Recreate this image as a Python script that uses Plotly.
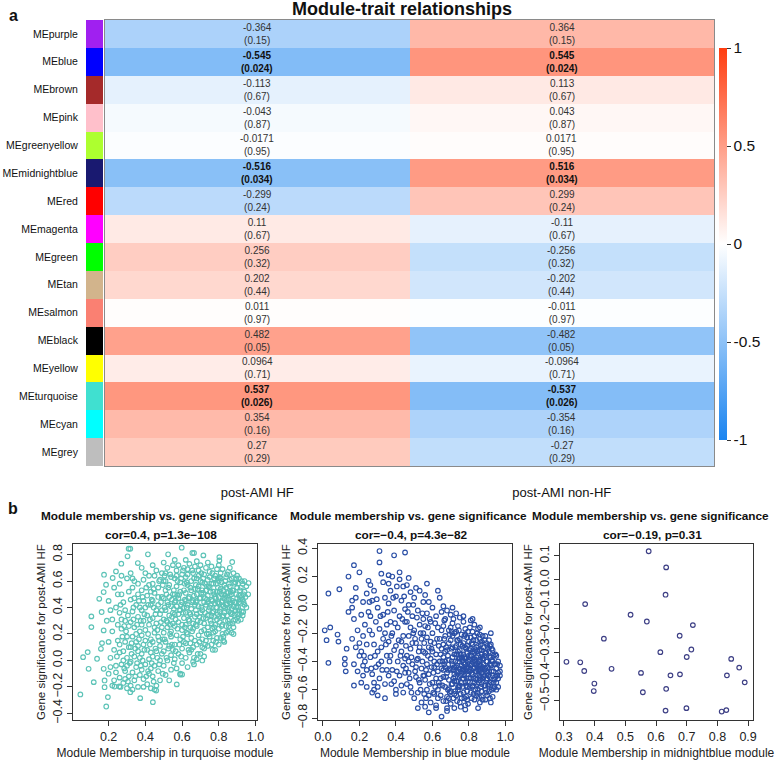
import plotly.graph_objects as go

# ---------------- data: module-trait heatmap ----------------
modules = ["MEpurple", "MEblue", "MEbrown", "MEpink", "MEgreenyellow", "MEmidnightblue",
           "MEred", "MEmagenta", "MEgreen", "MEtan", "MEsalmon", "MEblack", "MEyellow",
           "MEturquoise", "MEcyan", "MEgrey"]
module_colors = ["#A020F0", "#0000FF", "#A52A2A", "#FFC0CB", "#ADFF2F", "#191970",
                 "#FF0000", "#FF00FF", "#00FF00", "#D2B48C", "#FA8072", "#000000",
                 "#FFFF00", "#40E0D0", "#00FFFF", "#BEBEBE"]
traits = ["post-AMI HF", "post-AMI non-HF"]
cor_hf = [-0.364, -0.545, -0.113, -0.043, -0.0171, -0.516, -0.299, 0.11, 0.256, 0.202,
          0.011, 0.482, 0.0964, 0.537, 0.354, 0.27]
cor_nonhf = [0.364, 0.545, 0.113, 0.043, 0.0171, 0.516, 0.299, -0.11, -0.256, -0.202,
             -0.011, -0.482, -0.0964, -0.537, -0.354, -0.27]
pval = [0.15, 0.024, 0.67, 0.87, 0.95, 0.034, 0.24, 0.67, 0.32, 0.44, 0.97, 0.05, 0.71,
        0.026, 0.16, 0.29]
colorbar_ticks = [-1, -0.5, 0, 0.5, 1]

# ---------------- data: scatter panels ----------------
turquoise_points = [
    (0.046,-0.257),(0.187,-0.348),(0.196,-0.277),(0.061,0.025),(0.091,-0.063),(0.086,0.063),
    (0.119,-0.164),(0.106,0.252),(0.106,0.333),(0.137,0.013),(0.158,0.088),(0.164,0.131),
    (0.173,0.227),(0.162,0.366),(0.149,0.466),(0.175,0.648),(0.186,0.572),(0.173,0.517),
    (0.222,0.623),(0.240,0.673),(0.269,0.731),(0.303,0.787),(0.309,0.844),(0.318,0.844),
    (0.359,0.736),(0.414,0.802),(0.524,0.802),(0.598,0.852),(0.656,0.812),(0.665,0.812),
    (0.716,0.794),(0.803,0.781),(0.803,0.756),(0.873,0.744),(0.962,0.585),(0.933,0.366),
    (0.173,-0.063),(0.178,-0.151),(0.178,-0.202),(0.232,-0.197),(0.258,-0.197),(0.265,-0.2),
    (0.318,-0.24),(0.372,-0.285),(0.441,-0.315),(0.459,-0.227),(0.571,-0.181),(0.59,-0.106),
    (0.6,-0.106),(0.665,-0.03),(0.71,0.0),(0.767,0.081),(0.824,0.151),(0.88,0.2),
    (0.20,0.45),(0.21,0.38),(0.19,0.30),(0.22,0.22),(0.20,0.14),(0.23,0.08),(0.21,0.02),
    (0.24,-0.04),(0.20,-0.10),(0.23,-0.15),(0.22,0.31),(0.24,0.40),(0.25,0.15),(0.24,-0.09),
    (0.25,0.50),(0.23,0.55),(0.21,-0.05),(0.25,0.27),(0.22,-0.19),(0.245,0.03),
    (0.26,0.58),(0.27,0.50),(0.28,0.44),(0.26,0.36),(0.29,0.30),(0.27,0.24),(0.30,0.18),
    (0.26,0.12),(0.28,0.07),(0.30,0.02),(0.27,-0.03),(0.29,-0.08),(0.26,-0.13),(0.31,-0.12),
    (0.28,-0.17),(0.30,-0.21),(0.31,0.10),(0.29,0.38),(0.31,0.52),(0.27,0.64),(0.30,0.62),
    (0.28,0.00),(0.26,0.06),(0.30,-0.04),(0.29,0.14),(0.31,0.26),(0.27,0.31),(0.29,-0.14),
    (0.32,0.66),(0.34,0.60),(0.33,0.55),(0.36,0.50),(0.32,0.46),(0.35,0.42),(0.33,0.37),
    (0.36,0.33),(0.32,0.29),(0.34,0.25),(0.37,0.22),(0.33,0.18),(0.35,0.14),(0.32,0.10),
    (0.36,0.07),(0.34,0.03),(0.32,-0.01),(0.35,-0.05),(0.33,-0.09),(0.37,-0.11),(0.34,-0.15),
    (0.32,-0.19),(0.36,-0.20),(0.35,0.20),(0.37,0.40),(0.33,0.62),(0.36,0.58),(0.37,0.02),
    (0.33,-0.22),(0.36,0.11),(0.34,0.47),
    (0.38,0.70),(0.40,0.66),(0.39,0.61),(0.42,0.57),(0.38,0.53),(0.41,0.49),(0.39,0.45),
    (0.43,0.42),(0.38,0.38),(0.41,0.34),(0.39,0.30),(0.42,0.27),(0.40,0.23),(0.38,0.19),
    (0.43,0.16),(0.39,0.12),(0.41,0.08),(0.38,0.05),(0.42,0.01),(0.40,-0.03),(0.38,-0.07),
    (0.42,-0.10),(0.39,-0.14),(0.41,-0.18),(0.43,-0.21),(0.40,0.15),(0.43,0.06),(0.38,0.27),
    (0.42,0.64),(0.40,0.40),(0.43,0.52),(0.39,-0.20),(0.43,-0.06),
    (0.44,0.72),(0.46,0.68),(0.45,0.64),(0.48,0.61),(0.44,0.58),(0.47,0.55),(0.45,0.51),
    (0.49,0.48),(0.44,0.45),(0.47,0.42),(0.46,0.38),(0.48,0.35),(0.44,0.32),(0.46,0.28),
    (0.49,0.25),(0.45,0.21),(0.47,0.18),(0.44,0.14),(0.48,0.11),(0.46,0.07),(0.44,0.03),
    (0.48,0.00),(0.45,-0.04),(0.47,-0.08),(0.44,-0.12),(0.48,-0.15),(0.46,-0.19),(0.49,0.66),
    (0.49,0.38),(0.45,0.25),(0.49,0.05),(0.47,0.48),(0.45,-0.22),
    (0.50,0.74),(0.52,0.70),(0.51,0.66),(0.54,0.63),(0.50,0.60),(0.53,0.57),(0.51,0.53),
    (0.55,0.50),(0.50,0.47),(0.52,0.44),(0.54,0.41),(0.51,0.38),(0.53,0.34),(0.50,0.31),
    (0.55,0.28),(0.52,0.25),(0.50,0.21),(0.54,0.18),(0.51,0.14),(0.53,0.11),(0.50,0.07),
    (0.54,0.04),(0.52,0.00),(0.50,-0.04),(0.54,-0.07),(0.51,-0.11),(0.53,-0.15),(0.55,0.72),
    (0.55,0.36),(0.52,0.29),(0.55,0.08),(0.53,0.48),(0.51,0.60),(0.54,0.22),
    (0.56,0.76),(0.58,0.72),(0.57,0.68),(0.60,0.65),(0.56,0.62),(0.59,0.59),(0.57,0.56),
    (0.61,0.53),(0.56,0.50),(0.58,0.47),(0.60,0.44),(0.57,0.41),(0.59,0.38),(0.56,0.35),
    (0.61,0.32),(0.58,0.29),(0.56,0.26),(0.60,0.23),(0.57,0.19),(0.59,0.16),(0.56,0.12),
    (0.60,0.09),(0.58,0.05),(0.56,0.01),(0.60,-0.02),(0.57,-0.06),(0.59,-0.10),(0.61,0.70),
    (0.61,0.40),(0.58,0.35),(0.61,0.14),(0.59,0.52),(0.57,0.64),(0.60,0.27),(0.56,0.44),
    (0.62,0.76),(0.64,0.73),(0.63,0.69),(0.66,0.66),(0.62,0.63),(0.65,0.60),(0.63,0.57),
    (0.67,0.54),(0.62,0.51),(0.64,0.48),(0.66,0.45),(0.63,0.42),(0.65,0.39),(0.62,0.36),
    (0.67,0.33),(0.64,0.30),(0.62,0.27),(0.66,0.24),(0.63,0.20),(0.65,0.17),(0.62,0.13),
    (0.66,0.10),(0.64,0.06),(0.62,0.02),(0.66,-0.01),(0.63,-0.05),(0.67,0.71),(0.67,0.42),
    (0.64,0.36),(0.67,0.15),(0.65,0.53),(0.63,0.65),(0.66,0.28),(0.62,0.45),(0.65,0.08),
    (0.68,0.75),(0.70,0.72),(0.69,0.68),(0.72,0.65),(0.68,0.62),(0.71,0.59),(0.69,0.56),
    (0.73,0.53),(0.68,0.50),(0.70,0.47),(0.72,0.44),(0.69,0.41),(0.71,0.38),(0.68,0.35),
    (0.73,0.32),(0.70,0.29),(0.68,0.26),(0.72,0.23),(0.69,0.19),(0.71,0.16),(0.68,0.12),
    (0.72,0.09),(0.70,0.05),(0.68,0.01),(0.72,0.03),(0.73,0.70),(0.73,0.42),(0.70,0.36),
    (0.73,0.15),(0.71,0.53),(0.69,0.64),(0.72,0.28),(0.68,0.45),(0.71,0.10),(0.70,0.60),
    (0.74,0.74),(0.76,0.71),(0.75,0.67),(0.78,0.64),(0.74,0.61),(0.77,0.58),(0.75,0.55),
    (0.79,0.52),(0.74,0.49),(0.76,0.46),(0.78,0.43),(0.75,0.40),(0.77,0.37),(0.74,0.34),
    (0.79,0.31),(0.76,0.28),(0.74,0.25),(0.78,0.22),(0.75,0.18),(0.77,0.15),(0.74,0.11),
    (0.78,0.08),(0.76,0.12),(0.79,0.69),(0.79,0.40),(0.76,0.34),(0.79,0.17),(0.77,0.52),
    (0.75,0.63),(0.78,0.27),(0.74,0.44),(0.77,0.21),(0.76,0.58),(0.78,0.48),
    (0.80,0.72),(0.82,0.69),(0.81,0.66),(0.84,0.63),(0.80,0.60),(0.83,0.57),(0.81,0.54),
    (0.85,0.51),(0.80,0.48),(0.82,0.45),(0.84,0.42),(0.81,0.39),(0.83,0.36),(0.80,0.33),
    (0.85,0.30),(0.82,0.27),(0.80,0.24),(0.84,0.21),(0.81,0.17),(0.83,0.14),(0.80,0.12),
    (0.85,0.67),(0.85,0.39),(0.82,0.33),(0.85,0.22),(0.83,0.50),(0.81,0.62),(0.84,0.26),
    (0.80,0.43),(0.82,0.20),(0.84,0.55),(0.83,0.47),
    (0.86,0.70),(0.88,0.66),(0.87,0.62),(0.89,0.59),(0.86,0.56),(0.88,0.53),(0.87,0.50),
    (0.90,0.47),(0.86,0.44),(0.88,0.41),(0.89,0.38),(0.87,0.35),(0.89,0.31),(0.86,0.28),
    (0.88,0.25),(0.87,0.21),(0.90,0.64),(0.90,0.35),(0.88,0.30),(0.90,0.55),(0.86,0.61),
    (0.89,0.44),(0.87,0.39),(0.86,0.49),
    (0.91,0.62),(0.93,0.58),(0.92,0.55),(0.94,0.52),(0.91,0.49),(0.93,0.46),(0.92,0.43),
    (0.95,0.40),(0.91,0.38),(0.93,0.34),(0.92,0.31),(0.95,0.56),(0.94,0.60),(0.91,0.44),
    (0.96,0.50),(0.94,0.42),
]
turquoise_core_points = [
    (0.265,0.42),(0.275,0.18),(0.285,-0.06),(0.295,0.22),(0.305,0.34),(0.315,-0.02),
    (0.325,0.13),(0.335,0.40),(0.345,-0.12),(0.355,0.27),(0.365,0.45),(0.305,-0.16),
    (0.325,0.05),(0.345,0.09),(0.355,-0.02),(0.365,0.16),(0.285,0.26),(0.335,0.31),
    (0.375,-0.04),(0.375,0.30),
    (0.385,0.00),(0.395,0.35),(0.405,0.55),(0.415,-0.08),(0.425,0.12),(0.435,0.46),
    (0.445,-0.16),(0.455,0.35),(0.465,0.02),(0.475,0.60),(0.485,0.29),(0.495,-0.10),
    (0.395,0.08),(0.405,-0.12),(0.415,0.42),(0.425,0.31),(0.435,-0.02),(0.445,0.54),
    (0.455,0.09),(0.465,0.23),(0.475,-0.03),(0.485,0.44),(0.495,0.16),(0.385,0.48),
    (0.415,0.20),(0.445,0.40),(0.475,0.15),(0.495,0.57),
    (0.505,0.40),(0.515,0.02),(0.525,0.55),(0.535,0.20),(0.545,0.46),(0.555,-0.02),
    (0.565,0.31),(0.575,0.60),(0.585,0.12),(0.595,0.42),(0.605,0.68),(0.615,0.25),
    (0.505,0.16),(0.515,0.30),(0.525,0.09),(0.535,0.65),(0.545,0.33),(0.555,0.53),
    (0.565,0.07),(0.575,0.24),(0.585,0.50),(0.595,0.03),(0.605,0.36),(0.615,0.58),
    (0.505,0.64),(0.525,0.42),(0.545,0.12),(0.565,0.45),(0.585,0.38),(0.605,0.18),
    (0.515,0.50),(0.535,0.27),(0.555,0.39),(0.575,0.49),(0.595,0.62),(0.615,0.46),
    (0.625,0.40),(0.635,0.08),(0.645,0.55),(0.655,0.22),(0.665,0.62),(0.675,0.38),
    (0.685,0.05),(0.695,0.47),(0.705,0.66),(0.715,0.32),(0.725,0.58),(0.735,0.20),
    (0.625,0.59),(0.635,0.31),(0.645,0.13),(0.655,0.44),(0.665,0.02),(0.675,0.27),
    (0.685,0.54),(0.695,0.14),(0.705,0.40),(0.715,0.51),(0.725,0.36),(0.735,0.46),
    (0.625,0.21),(0.645,0.35),(0.665,0.49),(0.685,0.30),(0.705,0.22),(0.725,0.12),
    (0.635,0.47),(0.655,0.68),(0.675,0.57),(0.695,0.33),(0.715,0.62),(0.735,0.56),
    (0.645,0.25),(0.675,0.44),(0.705,0.51),(0.725,0.47),
    (0.745,0.38),(0.755,0.52),(0.765,0.24),(0.775,0.62),(0.785,0.40),(0.795,0.55),
    (0.805,0.29),(0.815,0.50),(0.825,0.41),(0.835,0.60),(0.845,0.34),(0.855,0.46),
    (0.745,0.56),(0.755,0.30),(0.765,0.45),(0.775,0.33),(0.785,0.58),(0.795,0.44),
    (0.805,0.37),(0.815,0.26),(0.825,0.53),(0.835,0.40),(0.845,0.48),(0.855,0.58),
    (0.745,0.20),(0.765,0.66),(0.785,0.14),(0.805,0.63),(0.825,0.18),(0.845,0.65),
    (0.755,0.42),(0.775,0.50),(0.795,0.35),(0.815,0.44),(0.835,0.30),(0.855,0.37),
    (0.765,0.36),(0.785,0.47),(0.805,0.52),(0.825,0.34),(0.845,0.43),(0.775,0.25),
    (0.795,0.62),(0.815,0.59),(0.835,0.49),(0.855,0.26),
    (0.865,0.36),(0.875,0.53),(0.885,0.44),(0.895,0.62),(0.905,0.40),(0.915,0.53),
    (0.925,0.37),(0.935,0.50),(0.865,0.52),(0.875,0.45),(0.885,0.34),(0.895,0.50),
    (0.905,0.58),(0.915,0.46),(0.925,0.60),(0.935,0.44),(0.875,0.28),(0.895,0.40),
    (0.915,0.35),(0.885,0.58),(0.905,0.30),(0.925,0.48),(0.945,0.48),(0.865,0.43),
]

blue_points = [
    (0.01,-0.18),(0.02,-0.25),(0.03,0.08),(0.03,-0.41),(0.04,-0.16),(0.08,-0.21),(0.09,0.11),
    (0.085,-0.26),(0.14,0.20),(0.17,0.28),(0.20,0.23),(0.31,0.38),(0.31,0.30),(0.39,0.35),
    (0.45,0.37),(0.14,-0.05),(0.13,-0.31),(0.12,-0.38),(0.12,-0.42),(0.125,-0.47),(0.16,0.03),
    (0.18,0.12),(0.17,-0.57),(0.22,-0.43),(0.21,-0.55),(0.24,-0.58),(0.27,-0.62),(0.28,-0.6),
    (0.34,-0.66),(0.30,-0.64),(0.40,-0.63),(0.52,-0.73),(0.56,-0.72),(0.58,-0.76),(0.62,-0.73),
    (0.65,-0.79),(0.68,-0.75),(0.72,-0.73),(0.78,-0.74),(0.85,-0.73),(0.92,-0.69),(0.96,-0.48),
    (0.97,-0.5),(0.95,-0.6),(0.92,-0.2),(0.86,-0.16),(0.82,-0.10),(0.77,-0.08),(0.71,-0.02),
    (0.63,0.10),(0.57,0.15),(0.51,0.12),(0.47,0.19),(0.42,0.23),(0.36,0.21),(0.25,0.17),
    (0.16,-0.02),(0.18,0.05),(0.17,-0.10),(0.19,-0.18),(0.16,-0.24),(0.18,-0.30),(0.20,-0.36),
    (0.17,-0.42),(0.19,-0.47),(0.22,-0.50),(0.21,-0.07),(0.23,-0.14),(0.22,-0.22),(0.24,-0.28),
    (0.21,-0.33),(0.23,-0.40),(0.24,-0.46),(0.22,0.02),(0.25,-0.05),(0.20,-0.27),(0.24,0.08),
    (0.26,0.14),(0.28,0.10),(0.27,0.03),(0.30,-0.02),(0.26,-0.08),(0.29,-0.12),(0.31,-0.17),
    (0.27,-0.21),(0.33,-0.24),(0.28,-0.28),(0.30,-0.33),(0.26,-0.37),(0.32,-0.40),(0.29,-0.44),
    (0.27,-0.49),(0.31,-0.52),(0.34,-0.56),(0.30,-0.58),(0.33,0.16),(0.34,0.05),(0.33,-0.07),
    (0.35,-0.14),(0.32,-0.30),(0.35,-0.46),(0.28,-0.55),(0.32,0.22),(0.35,-0.36),(0.34,-0.20),
    (0.36,0.15),(0.38,0.20),(0.37,0.10),(0.40,0.06),(0.36,0.01),(0.39,-0.04),(0.42,-0.08),
    (0.37,-0.12),(0.41,-0.16),(0.38,-0.20),(0.44,-0.22),(0.36,-0.26),(0.40,-0.29),(0.43,-0.33),
    (0.37,-0.36),(0.41,-0.40),(0.44,-0.43),(0.38,-0.46),(0.42,-0.50),(0.39,-0.54),(0.43,-0.57),
    (0.40,-0.60),(0.44,0.13),(0.43,0.03),(0.45,-0.03),(0.45,-0.12),(0.43,-0.26),(0.45,-0.38),
    (0.36,-0.50),(0.42,0.18),(0.45,-0.48),(0.39,-0.32),(0.44,-0.62),
    (0.46,0.14),(0.48,0.09),(0.50,0.05),(0.47,0.00),(0.52,-0.04),(0.49,-0.08),(0.46,-0.12),
    (0.53,-0.14),(0.50,-0.18),(0.47,-0.22),(0.54,-0.24),(0.51,-0.27),(0.48,-0.31),(0.55,-0.33),
    (0.46,-0.36),(0.52,-0.38),(0.49,-0.42),(0.54,-0.45),(0.47,-0.48),(0.51,-0.51),(0.53,-0.55),
    (0.48,-0.58),(0.52,-0.62),(0.50,-0.66),(0.54,-0.69),(0.53,0.10),(0.55,0.02),(0.55,-0.10),
    (0.49,-0.27),(0.55,-0.20),(0.46,-0.56),(0.55,-0.50),(0.51,-0.44),(0.48,-0.16),(0.53,-0.30),
    (0.47,-0.40),
    (0.56,0.07),(0.58,0.02),(0.60,-0.02),(0.57,-0.06),(0.62,-0.08),(0.59,-0.12),(0.56,-0.15),
    (0.63,-0.16),(0.60,-0.20),(0.57,-0.23),(0.64,-0.24),(0.61,-0.27),(0.58,-0.30),(0.65,-0.31),
    (0.56,-0.34),(0.62,-0.35),(0.59,-0.38),(0.64,-0.40),(0.57,-0.42),(0.61,-0.44),(0.63,-0.47),
    (0.58,-0.49),(0.62,-0.52),(0.60,-0.55),(0.64,-0.57),(0.57,-0.60),(0.61,-0.63),(0.63,-0.66),
    (0.59,-0.69),(0.62,-0.71),(0.64,0.05),(0.65,-0.05),(0.65,-0.18),(0.59,-0.26),(0.65,-0.45),
    (0.56,-0.53),(0.60,-0.33),(0.63,-0.60),(0.58,-0.64),(0.61,-0.40),
    (0.66,-0.01),(0.68,-0.04),(0.70,-0.07),(0.67,-0.10),(0.71,-0.13),(0.66,-0.15),(0.69,-0.18),
    (0.72,-0.20),(0.67,-0.22),(0.70,-0.25),(0.66,-0.28),(0.71,-0.30),(0.68,-0.32),(0.72,-0.35),
    (0.66,-0.37),(0.69,-0.39),(0.71,-0.42),(0.67,-0.44),(0.70,-0.46),(0.72,-0.49),(0.66,-0.51),
    (0.69,-0.53),(0.71,-0.56),(0.67,-0.58),(0.70,-0.61),(0.72,-0.63),(0.68,-0.65),(0.66,-0.68),
    (0.70,-0.70),(0.68,-0.73),(0.69,-0.27),(0.68,-0.48),(0.71,-0.37),(0.67,-0.33),(0.72,-0.54),
    (0.69,-0.59),(0.70,-0.16),(0.67,-0.40),(0.71,-0.22),(0.72,-0.44),(0.66,-0.46),(0.69,-0.66),
    (0.73,-0.06),(0.75,-0.09),(0.77,-0.12),(0.74,-0.15),(0.78,-0.17),(0.73,-0.19),(0.76,-0.21),
    (0.79,-0.23),(0.74,-0.25),(0.77,-0.27),(0.73,-0.29),(0.78,-0.30),(0.75,-0.32),(0.79,-0.34),
    (0.73,-0.35),(0.76,-0.37),(0.78,-0.38),(0.74,-0.40),(0.77,-0.41),(0.80,-0.42),(0.73,-0.44),
    (0.75,-0.45),(0.78,-0.46),(0.76,-0.48),(0.79,-0.49),(0.74,-0.51),(0.77,-0.52),(0.73,-0.54),
    (0.78,-0.55),(0.75,-0.57),(0.79,-0.58),(0.74,-0.60),(0.77,-0.62),(0.73,-0.64),(0.76,-0.66),
    (0.79,-0.67),(0.75,-0.69),(0.78,-0.71),(0.80,-0.26),(0.80,-0.36),(0.80,-0.52),(0.76,-0.43),
    (0.74,-0.33),(0.78,-0.21),(0.76,-0.55),(0.79,-0.61),(0.75,-0.24),(0.77,-0.35),(0.73,-0.47),
    (0.78,-0.42),(0.75,-0.38),(0.77,-0.46),(0.79,-0.29),(0.74,-0.58),
    (0.81,-0.11),(0.83,-0.14),(0.85,-0.17),(0.82,-0.19),(0.86,-0.21),(0.81,-0.23),(0.84,-0.25),
    (0.87,-0.26),(0.82,-0.28),(0.85,-0.29),(0.81,-0.31),(0.86,-0.32),(0.83,-0.34),(0.87,-0.35),
    (0.81,-0.36),(0.84,-0.37),(0.86,-0.39),(0.82,-0.40),(0.85,-0.41),(0.88,-0.42),(0.81,-0.43),
    (0.83,-0.44),(0.86,-0.45),(0.84,-0.47),(0.87,-0.48),(0.82,-0.49),(0.85,-0.50),(0.81,-0.52),
    (0.86,-0.53),(0.83,-0.55),(0.87,-0.56),(0.82,-0.58),(0.85,-0.60),(0.81,-0.62),(0.84,-0.64),
    (0.87,-0.65),(0.83,-0.67),(0.86,-0.69),(0.88,-0.30),(0.88,-0.38),(0.88,-0.51),(0.84,-0.42),
    (0.82,-0.33),(0.86,-0.24),(0.84,-0.53),(0.87,-0.61),(0.83,-0.22),(0.85,-0.36),(0.81,-0.46),
    (0.86,-0.43),(0.83,-0.39),(0.85,-0.46),(0.87,-0.32),(0.82,-0.57),(0.84,-0.30),(0.86,-0.50),
    (0.89,-0.22),(0.91,-0.25),(0.90,-0.29),(0.93,-0.32),(0.89,-0.34),(0.92,-0.37),(0.90,-0.40),
    (0.94,-0.42),(0.89,-0.45),(0.91,-0.47),(0.93,-0.50),(0.90,-0.52),(0.92,-0.55),(0.89,-0.57),
    (0.94,-0.58),(0.91,-0.61),(0.90,-0.64),(0.93,-0.65),(0.89,-0.67),(0.95,-0.45),(0.95,-0.36),
    (0.92,-0.43),(0.90,-0.48),(0.94,-0.53),(0.91,-0.33),(0.93,-0.40),(0.89,-0.60),(0.92,-0.28),
    (0.95,-0.55),(0.91,-0.56),
    (0.96,-0.40),(0.97,-0.47),(0.96,-0.52),(0.97,-0.43),(0.96,-0.58),
]
blue_core_points = [
    (0.225,-0.36),(0.255,-0.18),(0.265,-0.45),(0.285,-0.36),(0.295,0.04),(0.315,-0.08),
    (0.325,-0.46),(0.345,-0.28),(0.355,-0.05),(0.365,-0.40),(0.375,-0.22),(0.385,0.05),
    (0.395,-0.13),(0.405,-0.47),(0.415,-0.25),(0.425,-0.36),(0.435,-0.10),(0.445,0.06),
    (0.405,0.13),(0.375,-0.56),(0.255,0.02),(0.305,-0.42),
    (0.455,-0.29),(0.465,-0.05),(0.475,-0.52),(0.485,-0.37),(0.495,-0.20),(0.505,-0.47),
    (0.515,-0.09),(0.525,-0.33),(0.535,-0.60),(0.545,-0.40),(0.555,-0.27),(0.565,-0.46),
    (0.575,-0.16),(0.585,-0.56),(0.595,-0.31),(0.605,-0.48),(0.615,-0.13),(0.625,-0.42),
    (0.635,-0.29),(0.645,-0.52),(0.455,-0.45),(0.485,-0.62),(0.505,-0.24),(0.525,-0.53),
    (0.545,-0.06),(0.565,-0.66),(0.585,-0.10),(0.605,-0.62),(0.625,-0.24),(0.645,-0.35),
    (0.515,-0.39),(0.555,-0.50),(0.595,-0.44),(0.635,-0.55),(0.575,-0.36),(0.615,-0.58),
    (0.535,-0.20),(0.495,0.00),(0.555,-0.63),(0.645,-0.64),
    (0.655,-0.40),(0.665,-0.24),(0.675,-0.51),(0.685,-0.36),(0.695,-0.45),(0.705,-0.31),
    (0.715,-0.52),(0.725,-0.40),(0.735,-0.25),(0.745,-0.47),(0.755,-0.35),(0.765,-0.58),
    (0.775,-0.44),(0.785,-0.31),(0.795,-0.54),(0.655,-0.57),(0.665,-0.11),(0.675,-0.30),
    (0.685,-0.60),(0.695,-0.21),(0.705,-0.56),(0.715,-0.10),(0.725,-0.61),(0.735,-0.43),
    (0.745,-0.18),(0.755,-0.63),(0.765,-0.29),(0.775,-0.50),(0.785,-0.65),(0.795,-0.40),
    (0.665,-0.42),(0.685,-0.46),(0.705,-0.40),(0.725,-0.30),(0.745,-0.38),(0.765,-0.46),
    (0.785,-0.45),(0.675,-0.68),(0.695,-0.62),(0.715,-0.66),(0.735,-0.68),(0.755,-0.72),
    (0.775,-0.66),(0.795,-0.70),(0.735,-0.54),(0.755,-0.50),(0.775,-0.37),(0.795,-0.47),
    (0.715,-0.46),(0.735,-0.35),(0.755,-0.28),(0.775,-0.22),(0.795,-0.19),(0.705,-0.19),
    (0.745,-0.58),(0.765,-0.39),(0.785,-0.57),(0.725,-0.51),(0.765,-0.52),(0.785,-0.38),
    (0.805,-0.39),(0.815,-0.27),(0.825,-0.45),(0.835,-0.32),(0.845,-0.56),(0.855,-0.40),
    (0.865,-0.28),(0.875,-0.44),(0.885,-0.57),(0.895,-0.40),(0.905,-0.31),(0.915,-0.51),
    (0.925,-0.39),(0.935,-0.47),(0.945,-0.35),(0.805,-0.58),(0.815,-0.48),(0.825,-0.63),
    (0.835,-0.40),(0.845,-0.20),(0.855,-0.55),(0.865,-0.46),(0.875,-0.38),(0.885,-0.25),
    (0.895,-0.53),(0.905,-0.44),(0.915,-0.37),(0.925,-0.60),(0.935,-0.55),(0.945,-0.51),
    (0.805,-0.47),(0.815,-0.36),(0.825,-0.52),(0.835,-0.47),(0.845,-0.33),(0.855,-0.47),
    (0.865,-0.58),(0.875,-0.52),(0.885,-0.46),(0.895,-0.34),(0.905,-0.57),(0.915,-0.42),
    (0.925,-0.47),(0.935,-0.36),(0.805,-0.32),(0.825,-0.38),(0.845,-0.44),(0.865,-0.37),
    (0.885,-0.36),(0.905,-0.50),(0.925,-0.31),(0.815,-0.66),(0.835,-0.60),(0.855,-0.65),
    (0.875,-0.67),(0.895,-0.62),(0.915,-0.66),(0.805,-0.16),(0.825,-0.25),(0.855,-0.32),
    (0.875,-0.22),(0.895,-0.27),(0.835,-0.52),(0.865,-0.51),(0.885,-0.50),(0.915,-0.29),
    (0.945,-0.42),(0.815,-0.42),(0.845,-0.62),(0.865,-0.43),(0.895,-0.47),(0.935,-0.59),
    (0.955,-0.50),(0.955,-0.42),
]

midnightblue_mm = [0.576, 0.633, 0.631, 0.369, 0.517, 0.570, 0.720, 0.430, 0.677, 0.715,
                   0.614, 0.700, 0.308, 0.353, 0.366, 0.455, 0.551, 0.647, 0.678, 0.399,
                   0.397, 0.557, 0.633, 0.831, 0.845, 0.871, 0.889, 0.631, 0.699, 0.814, 0.829]
midnightblue_gs = [0.119, 0.052, -0.061, -0.100, -0.144, -0.172, -0.187, -0.243, -0.231, -0.288,
                   -0.299, -0.319, -0.339, -0.341, -0.377, -0.368, -0.385, -0.395, -0.391, -0.429,
                   -0.460, -0.465, -0.451, -0.395, -0.327, -0.363, -0.424, -0.541, -0.531, -0.545, -0.539]

panel_titles = ["cor=0.4, p=1.3e\u2212108", "cor=\u22120.4, p=4.3e\u221282", "cor=\u22120.19, p=0.31"]
panel_xtitles = ["Module Membership in turquoise module", "Module Membership in blue module",
                 "Module Membership in midnightblue module"]
ytitle = "Gene significance for post-AMI HF"

# ---------------- figure ----------------
W, H = 784, 760
FONT = "Liberation Sans, Arial, Helvetica, sans-serif"


def px(x):
    return x / W


def py(y):
    return 1 - y / H


fig = go.Figure()

z = [[a, b] for a, b in zip(cor_hf, cor_nonhf)]
fig.add_trace(go.Heatmap(
    z=z, x=traits, y=modules, zmin=-1, zmax=1,
    colorscale=[[0, "#1A84F0"], [0.5, "#FFFFFF"], [1, "#FF3D10"]],
    xaxis="x", yaxis="y", hoverinfo="skip",
    colorbar=dict(x=px(719), xanchor="left", thickness=8, len=392 / H, lenmode="fraction",
                  y=py(244), yanchor="middle", tickvals=colorbar_ticks,
                  ticktext=[str(t) for t in colorbar_ticks], ticks="outside", ticklen=4,
                  tickcolor="#333", outlinewidth=0, xpad=0, ypad=0,
                  tickfont=dict(size=15.5, color="#111", family=FONT)),
))

fig.add_trace(go.Bar(
    x=[1] * len(modules), y=modules, orientation="h", marker_color=module_colors,
    marker_line_width=0, width=1, xaxis="x2", yaxis="y2", hoverinfo="skip", showlegend=False,
))

annotations = []
for i, m in enumerate(modules):
    for t, vals in zip(traits, (cor_hf, cor_nonhf)):
        txt = f"{vals[i]}<br>({pval[i]})"
        col = "#333"
        if pval[i] < 0.05:
            txt = f"<b>{txt}</b>"
            col = "#111"
        annotations.append(dict(x=t, y=m, xref="x", yref="y", text=txt, showarrow=False,
                                xanchor="center", yanchor="middle",
                                font=dict(size=10, color=col, family=FONT)))

scatter_sets = [
    ([p[0] for p in turquoise_points + turquoise_core_points],
     [p[1] for p in turquoise_points + turquoise_core_points], "#5CC3B7"),
    ([p[0] for p in blue_points + blue_core_points],
     [p[1] for p in blue_points + blue_core_points], "#2A4FA6"),
    (midnightblue_mm, midnightblue_gs, "#3D3F85"),
]
for k, (xs, ys, col) in enumerate(scatter_sets):
    fig.add_trace(go.Scatter(
        x=xs, y=ys, mode="markers", xaxis=f"x{k + 3}", yaxis=f"y{k + 3}",
        marker=dict(symbol="circle-open", size=4.6, color=col, line=dict(width=1.2, color=col)),
        hoverinfo="skip", showlegend=False,
    ))

layout = dict(
    template="none",
    width=W, height=H, margin=dict(l=0, r=0, t=0, b=0, autoexpand=False),
    paper_bgcolor="white", plot_bgcolor="white", showlegend=False, bargap=0,
    font=dict(family=FONT, color="#111"),
    xaxis=dict(domain=[px(105), px(714)], anchor="y", showgrid=False, zeroline=False,
               showline=True, mirror=True, linecolor="#8A8A8A", linewidth=1, automargin=False,
               ticks="outside", ticklen=14, tickcolor="rgba(0,0,0,0)",
               tickfont=dict(size=13, color="#111", family=FONT), fixedrange=True),
    yaxis=dict(domain=[py(466), py(20)], anchor="x", showgrid=False, zeroline=False,
               showline=True, mirror=True, linecolor="#8A8A8A", linewidth=1, automargin=False,
               showticklabels=False, ticks="", range=[15.5, -0.5], categoryorder="array",
               categoryarray=modules),
    xaxis2=dict(domain=[px(86), px(103)], anchor="y2", range=[0, 1], visible=False,
                automargin=False),
    yaxis2=dict(domain=[py(466), py(20)], anchor="x2", range=[15.5, -0.5], automargin=False,
                categoryorder="array", categoryarray=modules, showgrid=False, zeroline=False,
                showline=False, ticks="outside", ticklen=5, tickcolor="rgba(0,0,0,0)",
                tickfont=dict(size=10.5, color="#111", family=FONT)),
)

panel_x = [(73, 257), (318, 512), (560, 753)]
panel_xrange = [[0.006, 1.008], [-0.027, 1.036], [0.287, 0.916]]
panel_yrange = [[-0.45, 0.88], [-0.814, 0.43], [-0.58, 0.149]]
panel_xticks = [[0.2, 0.4, 0.6, 0.8, 1.0], [0.0, 0.2, 0.4, 0.6, 0.8, 1.0],
                [0.3, 0.4, 0.5, 0.6, 0.7, 0.8, 0.9]]
panel_yticks = [[-0.4, -0.2, 0.0, 0.2, 0.4, 0.6, 0.8], [-0.8, -0.6, -0.4, -0.2, 0.0, 0.2, 0.4],
                [-0.5, -0.4, -0.3, -0.2, -0.1, 0.0, 0.1]]
for k in range(3):
    x0, x1 = panel_x[k]
    common = dict(showgrid=False, zeroline=False, showline=True, mirror=True, linecolor="#333",
                  linewidth=1, ticks="outside", ticklen=5, tickcolor="#333", tickformat=".1f",
                  tickfont=dict(size=12.5, color="#222", family=FONT), fixedrange=True,
                  automargin=False)
    layout[f"xaxis{k + 3}"] = dict(
        domain=[px(x0), px(x1)], anchor=f"y{k + 3}", range=panel_xrange[k],
        tickvals=panel_xticks[k],
        title=dict(text=panel_xtitles[k], font=dict(size=12, color="#222", family=FONT), standoff=5),
        **common)
    layout[f"yaxis{k + 3}"] = dict(
        domain=[py(720), py(544)], anchor=f"x{k + 3}", range=panel_yrange[k],
        tickvals=panel_yticks[k], tickangle=-90,
        title=dict(text=ytitle, font=dict(size=11.5, color="#222", family=FONT), standoff=2),
        **common)
    cx = (x0 + x1) / 2
    annotations.append(dict(x=px(cx - 6), y=py(516), xref="paper", yref="paper",
                            xanchor="center", yanchor="middle",
                            text="<b>Module membership vs. gene significance</b>", showarrow=False,
                            font=dict(size=11.8, color="#111", family=FONT)))
    annotations.append(dict(x=px(cx - 4), y=py(535), xref="paper", yref="paper",
                            xanchor="center", yanchor="middle",
                            text=f"<b>{panel_titles[k]}</b>", showarrow=False,
                            font=dict(size=11.8, color="#111", family=FONT)))

annotations.append(dict(x=px(402), y=py(9), xref="paper", yref="paper",
                        xanchor="center", yanchor="middle",
                        text="<b>Module-trait relationships</b>", showarrow=False,
                        font=dict(size=18, color="#111", family=FONT)))
annotations.append(dict(x=px(13), y=py(15), xref="paper", yref="paper",
                        xanchor="center", yanchor="middle", text="<b>a</b>",
                        showarrow=False, font=dict(size=16, color="#111", family=FONT)))
annotations.append(dict(x=px(13), y=py(508), xref="paper", yref="paper",
                        xanchor="center", yanchor="middle", text="<b>b</b>",
                        showarrow=False, font=dict(size=16, color="#111", family=FONT)))

layout["annotations"] = annotations
fig.update_layout(**layout)
fig.write_html("out.html", config={"displayModeBar": False},
               post_script="document.body.style.margin='0px';document.body.style.padding='0px';")
